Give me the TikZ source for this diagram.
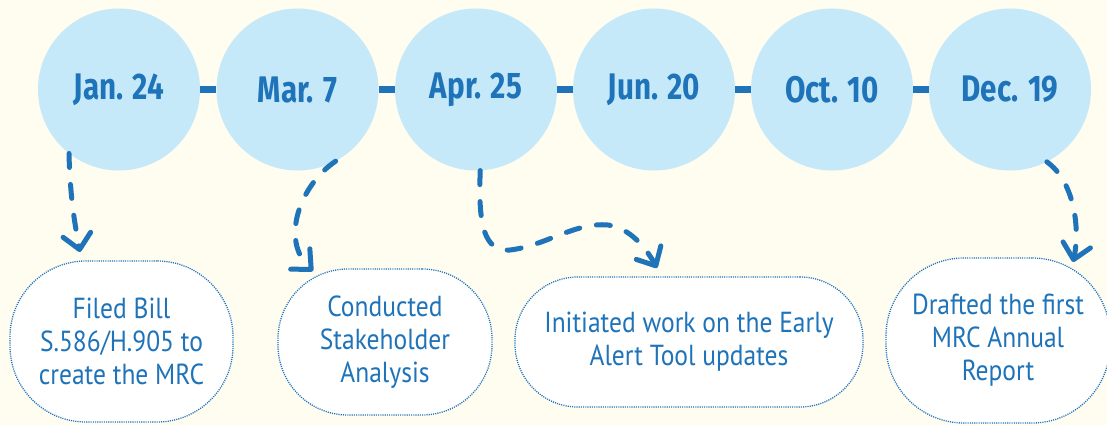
\documentclass[tikz,border=0pt]{standalone}
\usepackage{fontspec}
\usetikzlibrary{arrows.meta}
\newfontfamily\datefont[FakeStretch=0.8]{Fira Sans}
\newfontfamily\bodyfont[FakeStretch=0.88]{PT Sans}
\definecolor{bg}{RGB}{255,252,240}
\definecolor{dblue}{RGB}{30,115,185}
\definecolor{lblue}{RGB}{197,233,249}
\tikzset{
  datecirc/.style={circle, fill=lblue, minimum size=162pt, inner sep=0pt,
    text=dblue, font=\datefont\bfseries\fontsize{37}{40}\selectfont},
  bar/.style={draw=dblue, line width=7pt},
  eventbox/.style={draw=dblue, fill=white, line width=1.3pt,
    dash pattern=on 1.1pt off 1.1pt, rounded corners=76pt,
    text=dblue, align=center, inner sep=0pt,
    font=\bodyfont\fontsize{29}{33}\selectfont},
  flow/.style={draw=dblue, line width=5pt, line cap=round, line join=round,
    dash pattern=on 14pt off 17pt,
    -{Straight Barb[length=15pt,width=28pt,line width=5pt,line cap=round,line join=round]}},
}
\begin{document}
\begin{tikzpicture}[x=1pt,y=-1pt]
\fill[bg] (0,0) rectangle (1107,425);
\useasboundingbox (0,0) rectangle (1107,425);
% circles
\node[datecirc] (c1) at (119,89.5) {Jan. 24};
\node[datecirc] (c2) at (297.5,89.5) {Mar. 7};
\node[datecirc] (c3) at (476,89.5) {Apr. 25};
\node[datecirc] (c4) at (654,89.5) {Jun. 20};
\node[datecirc] (c5) at (832,89.5) {Oct. 10};
\node[datecirc] (c6) at (1010,89.5) {Dec. 19};
\foreach \a/\b in {c1/c2,c2/c3,c3/c4,c4/c5,c5/c6}
  \draw[bar] (\a) -- (\b);
% boxes
\node[eventbox, minimum width=223pt, minimum height=161pt] (b1) at (121.5,341.5)
  {Filed Bill\\S.586/H.905 to\\create the MRC};
\node[eventbox, minimum width=214pt, minimum height=146pt, rounded corners=70pt] (b2) at (385,342)
  {Conducted\\Stakeholder\\Analysis};
\node[eventbox, minimum width=348pt, minimum height=130pt, rounded corners=63pt] (b3) at (689,342)
  {Initiated work on the Early\\Alert Tool updates};
\node[eventbox, minimum width=224pt, minimum height=165pt, rounded corners=78pt] (b4) at (998,340.5)
  {Drafted the first\\MRC Annual\\Report};
% arrow tips
\coordinate (e1) at (80,252);
\coordinate (e2) at (313,271);
\coordinate (e3) at (657,268);
\coordinate (e4) at (1073,262);
% arrows
\draw[flow] (c1.232) .. controls (70,200) and (76,230) .. (e1);
\draw[flow] (c2.298) .. controls (300,185) and (280,240) .. (e2);
\draw[flow] (c3.273) .. controls (478,225) and (484,252) .. (510,250)
   .. controls (545,246) and (575,222) .. (608,225)
   .. controls (630,228) and (646,248) .. (e3);
\draw[flow] (c6.297) .. controls (1075,182) and (1080,230) .. (e4);
\end{tikzpicture}
\end{document}
